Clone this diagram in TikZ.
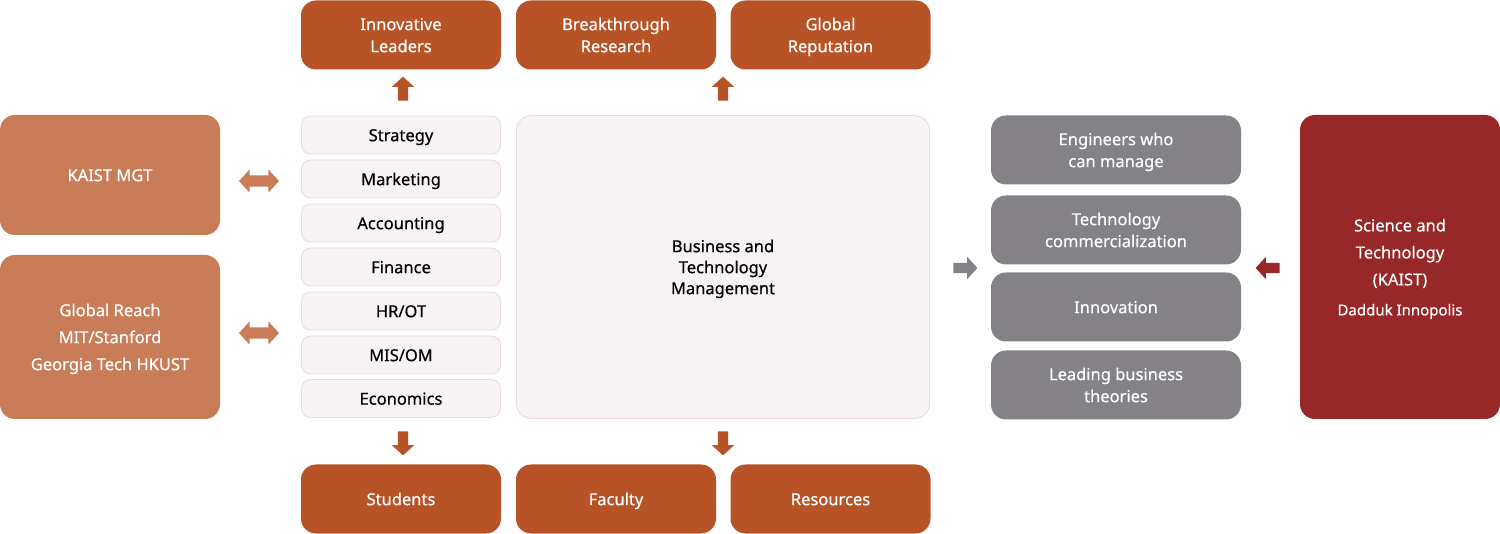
\documentclass[tikz,border=0pt]{standalone}
\usepackage{fontspec}
\setmainfont{Noto Sans}
\newfontfamily\medfont{Noto Sans}[FakeBold=0.5]
\usetikzlibrary{shapes.arrows}
\definecolor{topc}{HTML}{B85328}
\definecolor{leftc}{HTML}{C97C58}
\definecolor{greyc}{HTML}{848286}
\definecolor{redc}{HTML}{982827}
\definecolor{listfill}{HTML}{F8F3F4}
\definecolor{listdraw}{HTML}{EBD9DE}
\newcommand{\st}{\rule[-0.22\baselineskip]{0pt}{\baselineskip}}
\tikzset{
  base/.style={rounded corners=15pt, inner sep=0pt, align=center, font=\medfont\fontsize{16.5}{22}\selectfont},
  topbox/.style={base, fill=topc, text=white, minimum width=200pt, minimum height=69pt},
  leftbox/.style={base, fill=leftc, text=white, minimum width=220pt},
  greybox/.style={base, fill=greyc, text=white, minimum width=250pt, minimum height=69pt},
  redbox/.style={base, fill=redc, text=white, minimum width=200pt, minimum height=304pt},
  listbox/.style={base, rounded corners=9pt, fill=listfill, draw=listdraw, line width=0.8pt, text=black, minimum width=199pt, minimum height=38pt},
  bigbox/.style={base, rounded corners=15pt, fill=listfill, draw=listdraw, line width=0.8pt, text=black, minimum width=413pt, minimum height=303pt},
  arr/.style={single arrow, inner sep=5pt, single arrow head extend=6pt, minimum height=24pt, single arrow tip angle=95},
  darr/.style={double arrow, fill=leftc, inner sep=5.5pt, double arrow head extend=6pt, minimum height=40pt, double arrow tip angle=95},
}
\begin{document}
\begin{tikzpicture}[x=1pt,y=-1pt]
\useasboundingbox (0,0) rectangle (1500,534);
% top row
\node[topbox] (lead) at (401,35) {\st Innovative\\Leaders\st};
\node[topbox] (res) at (616,35) {\st Breakthrough\\Research\st};
\node[topbox] (rep) at (830.5,35) {\st Global\\Reputation\st};
% bottom row
\node[topbox] (stu) at (401,499) {\st Students};
\node[topbox] (fac) at (616,499) {\st Faculty};
\node[topbox] (rsc) at (830.5,499) {\st Resources};
% left
\node[leftbox, minimum height=120pt] (kaist) at (110,175) {\st KAIST MGT};
\node[leftbox, minimum height=164pt] (glob) at (110,337) {\st Global Reach\\[5pt]MIT/Stanford\\[5pt]Georgia Tech HKUST\st};
% list
\node[listbox] (s1) at (401,135) {\st Strategy};
\node[listbox] (s2) at (401,179) {\st Marketing};
\node[listbox] (s3) at (401,223) {\st Accounting};
\node[listbox] (s4) at (401,267) {\st Finance};
\node[listbox] (s5) at (401,311) {\st HR/OT};
\node[listbox] (s6) at (401,355) {\st MIS/OM};
\node[listbox] (s7) at (401,398.5) {\st Economics};
% big box
\node[bigbox] (btm) at (723,267) {\st Business and\\[-1pt]Technology\\[-1pt]Management\st};
% grey boxes
\node[greybox] (g1) at (1116,150) {\st Engineers who\\can manage\st};
\node[greybox] (g2) at (1116,230) {\st Technology\\commercialization\st};
\node[greybox] (g3) at (1116,307) {\st Innovation};
\node[greybox] (g4) at (1116,385) {\st Leading business\\theories\st};
% red box
\node[redbox] (sci) at (1400,267) {\st Science and\\[5pt]Technology\\[5pt](KAIST)\\[8pt]{\fontsize{15}{20}\selectfont Dadduk Innopolis\st}};
% arrows
\node[arr, fill=topc, shape border rotate=90] (u1) at (403,91) {};
\node[arr, fill=topc, shape border rotate=90] (u2) at (723,91) {};
\node[arr, fill=topc, shape border rotate=270] (d1) at (403,441) {};
\node[arr, fill=topc, shape border rotate=270] (d2) at (723,441) {};
\node[arr, fill=greyc] (r1) at (963,268) {};
\node[arr, fill=redc, shape border rotate=180] (l1) at (1270,268) {};
\node[darr] (b1) at (259,181) {};
\node[darr] (b2) at (259,333) {};
\end{tikzpicture}
\end{document}
